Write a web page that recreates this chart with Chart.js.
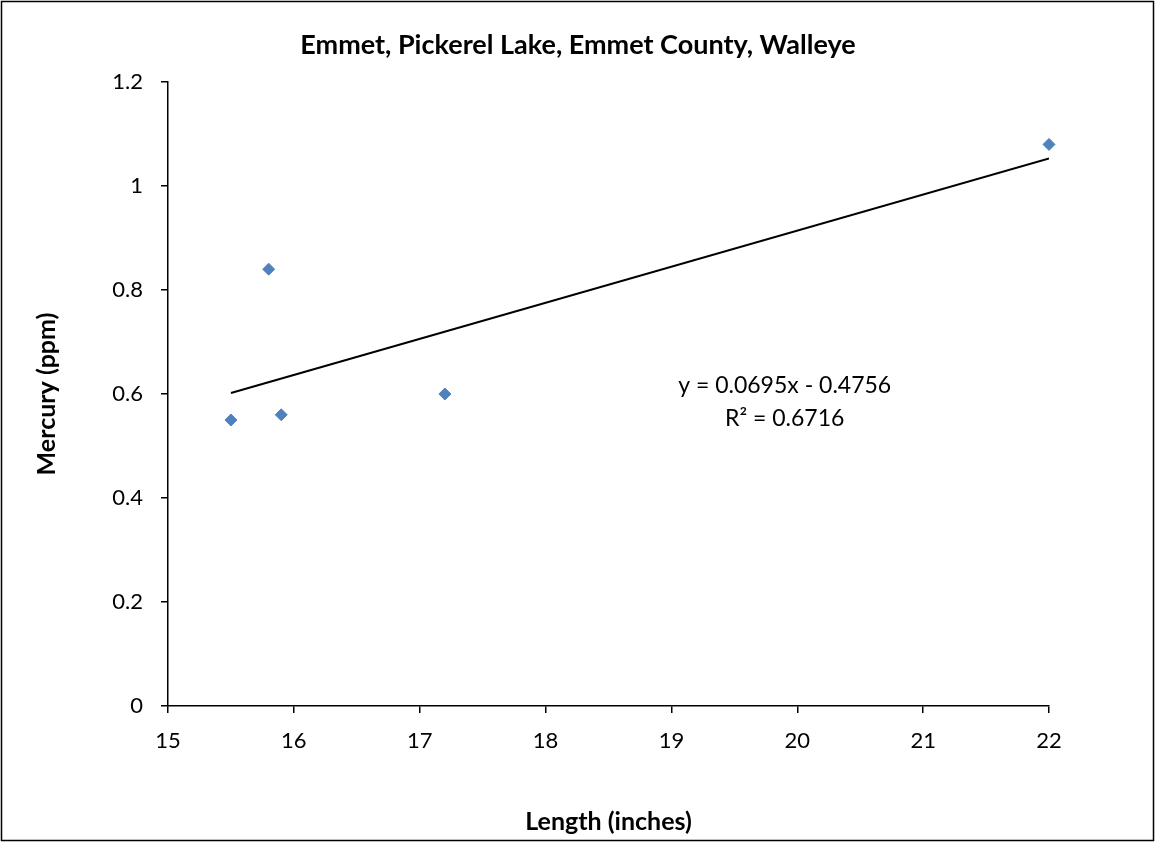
<!DOCTYPE html>
<html>
<head>
<meta charset="utf-8">
<script src="https://cdn.jsdelivr.net/npm/chart.js@4/dist/chart.umd.min.js"></script>
<style>
    html, body { margin: 0; padding: 0; background: #ffffff; }
</style>
</head>
<body>
<canvas id="chart" width="1156" height="842"></canvas>
<script>
"use strict";

// Meetgegevens: lengte van de vis en kwikgehalte.
const lengths = [15.5, 15.8, 15.9, 17.2, 22];
const mercury = [0.55, 0.84, 0.56, 0.60, 1.08];

const trendX = [15.5, 22];
const trendY = [0.602, 1.053];

const xTicks = [15, 16, 17, 18, 19, 20, 21, 22];
const yTicks = [0, 0.2, 0.4, 0.6, 0.8, 1, 1.2];

const equationLines = ["y = 0.0695x - 0.4756", "R² = 0.6716"];

const fontFamily = "Lato, 'Open Sans', sans-serif";

// Rand rond de hele grafiek.
const frame = {
    id: "frame",
    afterDraw(chart) {
        const ctx = chart.ctx;
        ctx.save();
        ctx.strokeStyle = "#000000";
        ctx.lineWidth = 1.5;
        ctx.strokeRect(1.5, 1.5, chart.width - 4, chart.height - 3);
        ctx.restore();
    }
};

// Vergelijking van de trendlijn als tekst in de grafiek.
const equationLabel = {
    id: "equationLabel",
    afterDatasetsDraw(chart) {
        const ctx = chart.ctx;
        const x = chart.scales.x.getPixelForValue(19.9);
        const y = chart.scales.y.getPixelForValue(0.617);
        ctx.save();
        ctx.fillStyle = "#000000";
        ctx.font = "23px " + fontFamily;
        ctx.textAlign = "center";
        ctx.textBaseline = "middle";
        equationLines.forEach((line, i) => ctx.fillText(line, x, y + i * 33));
        ctx.restore();
    }
};

const axisGrid = {
    drawOnChartArea: false,
    drawTicks: true,
    tickLength: 7,
    color: "#000000",
    lineWidth: 1.5
};

new Chart(document.getElementById("chart"), {
    type: "scatter",
    data: {
        datasets: [
            {
                label: "Walleye",
                data: lengths.map((x, i) => ({ x: x, y: mercury[i] })),
                pointStyle: "rectRot",
                pointRadius: 6,
                backgroundColor: "#4F81BD",
                borderColor: "#4F81BD",
                borderWidth: 1,
                clip: false
            },
            {
                label: "Trend",
                data: trendX.map((x, i) => ({ x: x, y: trendY[i] })),
                showLine: true,
                pointRadius: 0,
                borderColor: "#000000",
                borderWidth: 2
            }
        ]
    },
    options: {
        responsive: false,
        animation: false,
        layout: {
            padding: 0
        },
        scales: {
            x: {
                type: "linear",
                min: 15,
                max: 22,
                afterBuildTicks(scale) {
                    scale.ticks = xTicks.map((v) => ({ value: v }));
                },
                afterFit(scale) {
                    scale.height = 136;
                },
                ticks: {
                    color: "#000000",
                    font: { family: fontFamily, size: 22 },
                    padding: 15,
                    maxRotation: 0,
                    callback: (value) => String(value)
                },
                grid: axisGrid,
                border: { color: "#000000", width: 1.5 },
                title: {
                    display: true,
                    text: "Length (inches)",
                    color: "#000000",
                    font: { family: fontFamily, size: 25, weight: "bold" },
                    padding: { top: 0, bottom: 5 }
                }
            },
            y: {
                min: 0,
                max: 1.2,
                afterBuildTicks(scale) {
                    scale.ticks = yTicks.map((v) => ({ value: v }));
                },
                afterFit(scale) {
                    scale.width = 168;
                },
                ticks: {
                    color: "#000000",
                    font: { family: fontFamily, size: 22 },
                    padding: 18,
                    callback: (value) => String(value)
                },
                grid: axisGrid,
                border: { color: "#000000", width: 1.5 },
                title: {
                    display: true,
                    text: "Mercury (ppm)",
                    color: "#000000",
                    font: { family: fontFamily, size: 25, weight: "bold" },
                    padding: { top: 32, bottom: 0 }
                }
            },
            // Lege ruimte rechts van het plotgebied.
            spacer: {
                position: "right",
                display: true,
                ticks: { display: false },
                grid: { display: false },
                border: { display: false },
                afterFit(scale) {
                    scale.width = 107;
                }
            }
        },
        plugins: {
            legend: { display: false },
            tooltip: { enabled: false },
            title: {
                display: true,
                text: "Emmet, Pickerel Lake, Emmet County, Walleye",
                color: "#000000",
                font: { family: fontFamily, size: 27, weight: "bold" },
                padding: { top: 28.8, bottom: 20.8 }
            }
        }
    },
    plugins: [frame, equationLabel]
});
</script>
</body>
</html>
